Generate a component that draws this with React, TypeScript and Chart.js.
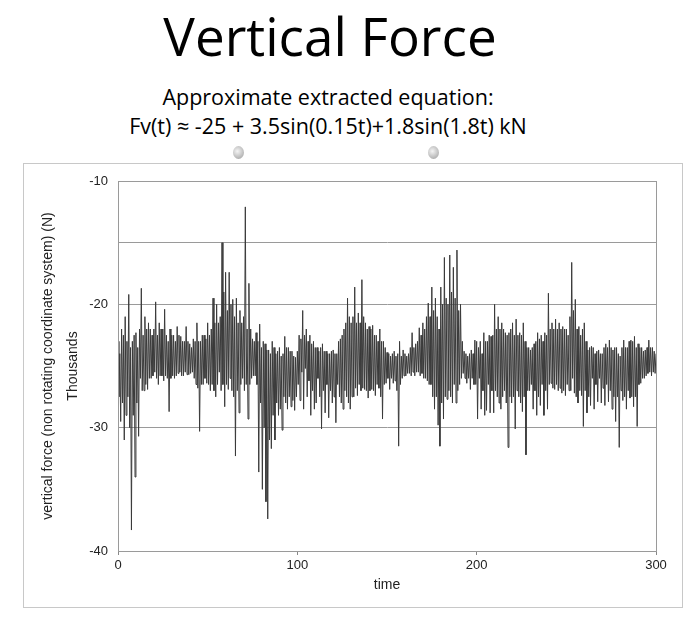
import React, { useEffect, useRef } from "react";
import { Chart, registerables } from "chart.js";

Chart.register(...registerables);

const TITLE = "Vertical Force";
const SUBTITLE_1 = "Approximate extracted equation:";
const SUBTITLE_2 = "Fv(t) ≈ -25 + 3.5sin(0.15t)+1.8sin(1.8t) kN";
const X_TITLE = "time";
const Y_TITLE = ["vertical force (non rotating coordinate system) (N)", "Thousands"];

const TIME_START = 0;
const TIME_STEP = 1;
const X_TICKS = [0, 100, 200, 300];
const Y_LABELED = [-10, -20, -30, -40];
const Y_GRID = [-15, -20, -30];

// local peaks of the vertical force (thousands of N), one reading per time unit, t = 0..300
const FORCE_UPPER = [
  -23.0, -24.0, -22.0, -22.5, -21.0, -23.0, -19.2, -23.5, -23.0, -22.5,
  -22.3, -23.5, -22.0, -18.7, -22.5, -21.0, -22.0, -21.5, -22.0, -22.5,
  -22.0, -19.8, -22.5, -21.5, -22.0, -22.0, -20.4, -22.5, -23.0, -22.0,
  -22.5, -22.5, -23.0, -21.8, -22.5, -22.6, -23.0, -23.0, -21.8, -23.0,
  -23.2, -23.5, -22.8, -23.0, -21.5, -23.0, -23.0, -22.5, -22.5, -22.8,
  -21.5, -22.5, -22.0, -19.5, -21.5, -20.0, -21.5, -21.0, -15.0, -19.0,
  -17.4, -20.5, -17.4, -20.0, -19.6, -21.0, -19.5, -21.5, -20.5, -21.5,
  -21.0, -12.1, -22.0, -18.3, -22.0, -22.8, -23.0, -22.3, -23.0, -21.6,
  -23.5, -23.0, -23.2, -23.7, -23.7, -24.0, -23.0, -23.5, -24.0, -23.8,
  -23.5, -24.2, -24.0, -22.6, -23.5, -23.5, -23.8, -23.8, -24.2, -24.3,
  -23.8, -22.5, -22.8, -20.5, -22.5, -22.0, -23.0, -22.5, -23.2, -23.0,
  -23.5, -23.5, -23.8, -23.5, -23.2, -23.8, -23.8, -24.0, -24.0, -23.8,
  -23.7, -24.0, -24.0, -23.0, -22.8, -22.5, -22.0, -21.5, -19.5, -21.0,
  -21.5, -21.0, -18.6, -21.5, -20.7, -21.5, -18.0, -21.0, -21.5, -22.0,
  -21.8, -22.0, -21.7, -22.5, -22.5, -23.0, -22.0, -23.0, -23.0, -23.5,
  -23.9, -24.0, -24.2, -24.0, -23.8, -24.2, -24.0, -23.0, -24.2, -23.7,
  -24.0, -24.2, -24.0, -23.5, -22.3, -23.5, -23.2, -23.0, -21.9, -22.5,
  -21.5, -22.0, -21.0, -19.9, -21.0, -18.6, -20.5, -19.5, -21.0, -22.0,
  -18.6, -20.0, -16.2, -19.5, -20.0, -16.0, -19.0, -17.0, -19.5, -15.6,
  -20.5, -20.0, -23.0, -23.8, -24.0, -24.2, -24.0, -23.7, -24.0, -22.9,
  -23.0, -23.5, -23.0, -24.0, -22.3, -23.0, -23.0, -22.5, -22.6, -22.5,
  -20.0, -22.0, -21.0, -22.0, -21.5, -22.0, -22.3, -22.5, -22.3, -22.0,
  -21.5, -22.5, -21.2, -22.5, -22.3, -22.5, -21.5, -23.0, -23.5, -23.5,
  -23.7, -23.5, -23.2, -23.0, -22.3, -22.8, -22.5, -23.0, -22.3, -22.5,
  -19.1, -22.0, -21.5, -22.0, -21.2, -22.0, -21.5, -22.0, -21.8, -22.0,
  -22.0, -22.5, -21.0, -16.6, -20.5, -19.6, -22.0, -21.8, -22.5, -22.0,
  -21.5, -23.0, -23.7, -23.5, -23.4, -23.5, -24.0, -23.8, -23.7, -24.0,
  -24.0, -23.5, -23.2, -23.5, -22.9, -23.5, -23.7, -23.5, -23.5, -24.0,
  -24.2, -23.5, -22.9, -23.5, -23.5, -23.0, -22.9, -23.0, -22.6, -23.5,
  -23.2, -23.5, -23.5, -23.8, -23.7, -23.5, -22.9, -23.5, -23.5, -23.8,
  -24.0,
];

// local troughs of the vertical force (thousands of N), read half a time unit later, t = 0.5..299.5
const FORCE_LOWER = [
  -27.5, -29.5, -28.0, -31.0, -29.0, -27.5, -30.0, -38.3, -29.0, -34.0,
  -28.0, -30.7, -26.0, -27.0, -27.0, -26.5, -26.9, -26.0, -26.0, -25.8,
  -25.5, -26.0, -26.5, -25.8, -25.8, -26.2, -25.8, -26.0, -28.7, -26.0,
  -25.8, -26.0, -25.8, -25.6, -25.5, -25.8, -25.8, -25.5, -25.7, -25.7,
  -25.6, -25.5, -26.0, -26.5, -26.8, -30.3, -26.5, -26.5, -26.0, -26.4,
  -26.5, -27.0, -26.5, -27.0, -27.5, -26.5, -25.5, -27.0, -26.5, -28.3,
  -26.5, -26.9, -26.0, -27.0, -27.5, -32.3, -27.0, -28.8, -26.5, -26.0,
  -27.0, -26.5, -29.3, -26.5, -26.0, -25.8, -25.8, -26.5, -33.6, -28.0,
  -35.0, -30.0, -36.0, -37.4, -31.0, -31.7, -29.0, -31.0, -28.0, -29.0,
  -28.5, -30.2, -27.5, -28.0, -28.5, -27.5, -28.3, -27.8, -28.6, -27.5,
  -26.5, -27.8, -25.5, -28.5, -25.2, -27.5, -26.2, -29.0, -27.0, -28.5,
  -28.0, -26.0, -27.5, -30.1, -27.0, -28.8, -26.5, -29.2, -27.0, -28.0,
  -27.5, -29.6, -26.5, -27.5, -28.0, -28.5, -27.0, -27.5, -28.0, -28.5,
  -27.5, -27.5, -26.8, -27.4, -26.5, -27.0, -26.8, -26.9, -27.0, -27.6,
  -27.0, -26.9, -27.0, -27.4, -26.5, -26.8, -27.5, -29.3, -26.5, -26.4,
  -26.0, -26.9, -26.0, -26.4, -26.2, -27.0, -31.5, -26.5, -26.0, -25.8,
  -25.8, -25.6, -25.6, -25.8, -25.5, -25.8, -25.5, -25.5, -25.8, -25.6,
  -26.0, -26.0, -26.2, -26.5, -26.5, -27.5, -28.5, -27.5, -29.8, -31.5,
  -28.0, -29.3, -27.5, -27.7, -27.0, -27.5, -28.0, -26.5, -28.0, -27.0,
  -26.5, -26.0, -25.6, -26.0, -26.4, -26.0, -26.9, -26.0, -26.5, -26.5,
  -29.3, -26.0, -28.5, -27.0, -29.0, -28.6, -26.5, -28.8, -27.0, -28.8,
  -27.0, -27.5, -28.0, -28.5, -27.5, -27.0, -28.0, -31.6, -27.5, -28.0,
  -27.5, -30.1, -27.0, -27.5, -28.0, -28.7, -27.5, -32.2, -27.0, -27.0,
  -26.5, -28.5, -27.0, -29.0, -27.5, -28.2, -26.5, -29.0, -27.0, -28.5,
  -26.5, -26.4, -26.8, -26.9, -26.5, -27.0, -26.8, -27.2, -27.0, -27.4,
  -26.5, -27.0, -27.0, -26.0, -27.2, -27.5, -28.0, -27.0, -27.4, -29.9,
  -27.0, -28.8, -27.5, -28.2, -26.0, -28.5, -26.5, -27.9, -26.0, -28.0,
  -26.8, -28.2, -26.5, -27.9, -27.0, -28.5, -27.5, -29.5, -27.5, -31.6,
  -27.0, -27.8, -27.5, -28.5, -27.0, -27.6, -27.5, -28.3, -27.5, -29.9,
  -26.5, -26.4, -26.0, -26.0, -25.8, -25.6, -25.5, -25.8, -25.5, -25.6,
];

const CANVAS_W = 693;
const CANVAS_H = 450;
const FONT = "'Liberation Sans', Arial, sans-serif";

const boxPlugin = {
  id: "plotBox",
  afterDraw(chart: any) {
    const { ctx, chartArea } = chart;
    ctx.save();
    ctx.strokeStyle = "#9a9a9a";
    ctx.lineWidth = 1;
    ctx.strokeRect(
      Math.round(chartArea.left) + 0.5,
      Math.round(chartArea.top) + 0.5,
      Math.round(chartArea.right - chartArea.left),
      Math.round(chartArea.bottom - chartArea.top)
    );
    ctx.restore();
  },
};

export default function App() {
  const ref = useRef<HTMLCanvasElement | null>(null);

  useEffect(() => {
    if (!ref.current) return;
    const points: { x: number; y: number }[] = [];
    FORCE_UPPER.forEach((v, i) => {
      const t = TIME_START + i * TIME_STEP;
      points.push({ x: t, y: v });
      if (i < FORCE_LOWER.length) points.push({ x: t + TIME_STEP / 2, y: FORCE_LOWER[i] });
    });
    const chart = new Chart(ref.current, {
      type: "line",
      data: {
        datasets: [
          {
            data: points,
            borderColor: "#3a3a3a",
            borderWidth: 1,
            pointRadius: 0,
            tension: 0,
            fill: false,
          },
        ],
      },
      options: {
        animation: false,
        responsive: false,
        maintainAspectRatio: false,
        layout: { padding: { left: 30, right: 37, top: 31, bottom: 0 } },
        plugins: {
          legend: { display: false },
          tooltip: { enabled: false },
        },
        scales: {
          x: {
            type: "linear",
            min: 0,
            max: 300,
            afterFit: (s: any) => {
              s.height = 49;
            },
            afterBuildTicks: (s: any) => {
              s.ticks = X_TICKS.map((v) => ({ value: v }));
            },
            ticks: {
              padding: 3,
              color: "#222",
              font: { family: FONT, size: 13 },
              maxRotation: 0,
              autoSkip: false,
            },
            grid: {
              drawOnChartArea: false,
              drawTicks: true,
              tickLength: 4,
              tickColor: "#888",
            },
            border: { display: true, color: "#9a9a9a" },
            title: {
              display: true,
              text: X_TITLE,
              color: "#222",
              font: { family: FONT, size: 14 },
              padding: { top: 0, bottom: 6 },
            },
          },
          y: {
            type: "linear",
            min: -40,
            max: -10,
            afterFit: (s: any) => {
              s.width = 88;
            },
            afterBuildTicks: (s: any) => {
              const vals: number[] = [];
              for (let v = -40; v <= -10; v += 5) vals.push(v);
              s.ticks = vals.map((v) => ({ value: v }));
            },
            ticks: {
              padding: 10,
              color: "#222",
              font: { family: FONT, size: 13 },
              autoSkip: false,
              callback: (v: any) => (Y_LABELED.includes(Number(v)) ? String(v) : ""),
            },
            grid: {
              drawTicks: false,
              color: (c: any) =>
                c.tick && Y_GRID.includes(c.tick.value) ? "#9a9a9a" : "rgba(0,0,0,0)",
              lineWidth: 1,
            },
            border: { display: true, color: "#9a9a9a" },
            title: {
              display: true,
              text: Y_TITLE,
              color: "#222",
              font: { family: FONT, size: 14, lineHeight: 1.78 },
              padding: { top: 6, bottom: 0 },
            },
          },
        },
      },
      plugins: [boxPlugin],
    });
    return () => chart.destroy();
  }, []);

  return (
    <div
      style={{
        position: "absolute",
        left: 0,
        top: 0,
        width: 693,
        height: 631,
        background: "#fff",
        overflow: "hidden",
      }}
    >
      <div
        style={{
          position: "absolute",
          left: 0,
          top: 9,
          width: 660,
          textAlign: "center",
          fontFamily: "'Open Sans', sans-serif",
          fontSize: 53,
          lineHeight: "53px",
          color: "#000",
        }}
      >
        {TITLE}
      </div>
      <div
        style={{
          position: "absolute",
          left: 0,
          top: 82,
          width: 656,
          textAlign: "center",
          fontFamily: "'Open Sans', sans-serif",
          fontSize: 21.5,
          lineHeight: "29px",
          color: "#000",
        }}
      >
        <div>{SUBTITLE_1}</div>
        <div>{SUBTITLE_2}</div>
      </div>
      <div
        style={{
          position: "absolute",
          left: 23,
          top: 163,
          width: 658,
          height: 443,
          border: "1px solid #c8c8c8",
        }}
      />
      <div
        style={{
          position: "absolute",
          left: 233,
          top: 146,
          width: 11,
          height: 13,
          borderRadius: "50%",
          background: "radial-gradient(circle at 40% 40%, #f4f4f4, #9a9a9a)",
        }}
      />
      <div
        style={{
          position: "absolute",
          left: 428,
          top: 146,
          width: 11,
          height: 13,
          borderRadius: "50%",
          background: "radial-gradient(circle at 40% 40%, #f4f4f4, #9a9a9a)",
        }}
      />
      <canvas
        ref={ref}
        width={CANVAS_W}
        height={CANVAS_H}
        style={{ position: "absolute", left: 0, top: 150, width: CANVAS_W, height: CANVAS_H }}
      />
    </div>
  );
}
